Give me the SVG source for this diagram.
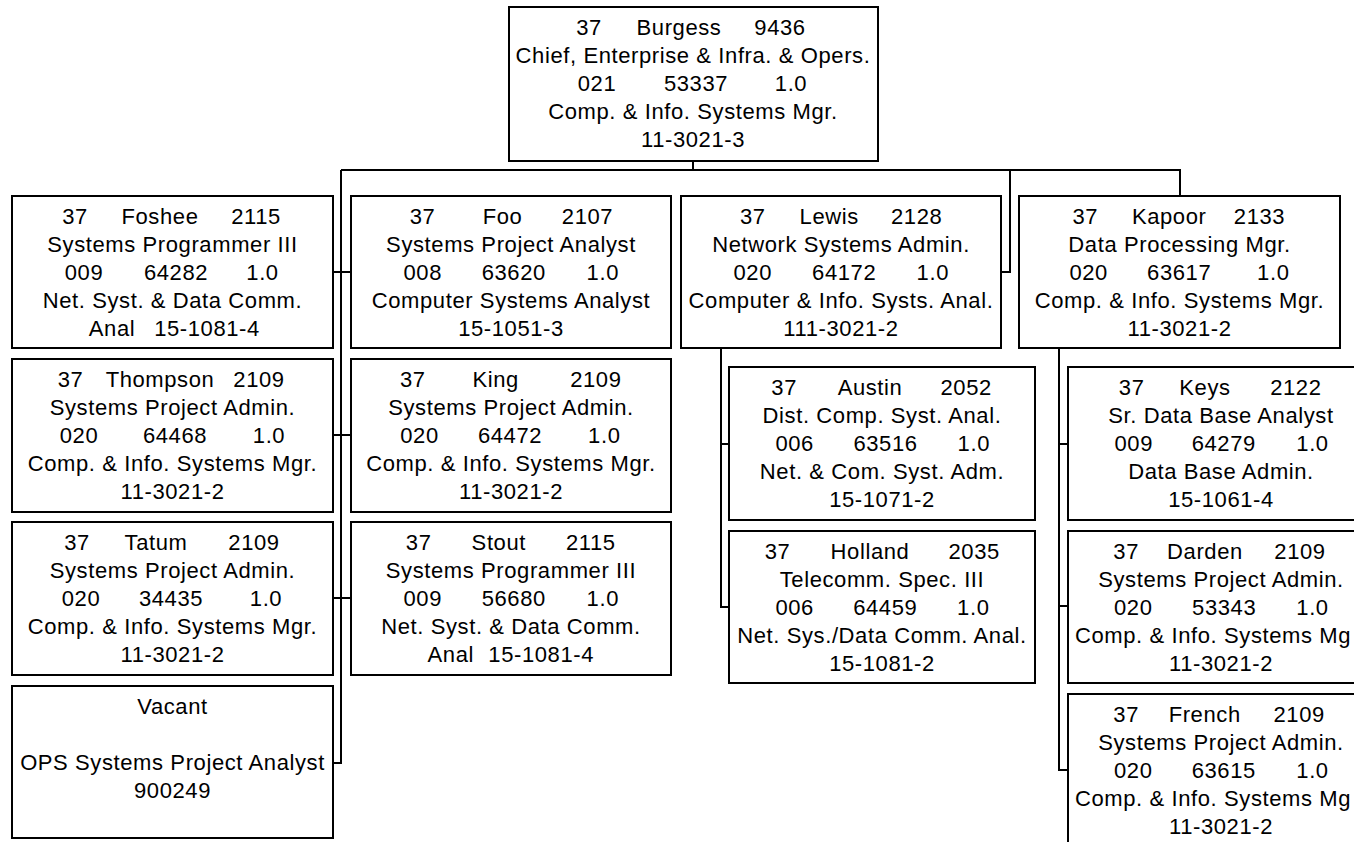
<svg xmlns="http://www.w3.org/2000/svg" width="1354" height="842" viewBox="0 0 1354 842">
<style>
.box{fill:#fff;stroke:#000;stroke-width:2}
.conn{fill:none;stroke:#000;stroke-width:2}
text{font-family:"Liberation Sans",Arial,sans-serif;font-size:22px;letter-spacing:0.6px;fill:#000;text-anchor:middle}
text.l{text-anchor:start}
</style>
<rect width="1354" height="842" fill="#fff"/>
<g id="connectors" class="conn">
<path d="M693,161 V170"/>
<path d="M341,170 H1180 V196"/>
<path d="M1010,170 V272 H1001"/>
<path d="M341,170 V763 H333"/>
<path d="M333,272 H351 M333,435 H351 M333,598 H351"/>
<path d="M721,348 V607 H729 M721,444 H729"/>
<path d="M1059,348 V770 H1068 M1059,444 H1068 M1059,606 H1068"/>
</g>
<g id="burgess">
<rect class="box" x="509" y="7" width="369" height="154"/>
<text y="34.5"><tspan x="589">37</tspan><tspan x="679">Burgess</tspan><tspan x="780">9436</tspan></text>
<text x="693" y="62.7">Chief, Enterprise &amp; Infra. &amp; Opers.</text>
<text y="90.9"><tspan x="597">021</tspan><tspan x="696">53337</tspan><tspan x="791">1.0</tspan></text>
<text x="693" y="119.1">Comp. &amp; Info. Systems Mgr.</text>
<text x="693" y="147.3">11-3021-3</text>
</g>
<g id="foshee">
<rect class="box" x="12" y="196" width="321" height="152"/>
<text y="223.5"><tspan x="75">37</tspan><tspan x="160">Foshee</tspan><tspan x="256">2115</tspan></text>
<text x="172.5" y="251.7">Systems Programmer III</text>
<text y="279.9"><tspan x="84">009</tspan><tspan x="176">64282</tspan><tspan x="262.5">1.0</tspan></text>
<text x="172.5" y="308.1">Net. Syst. &amp; Data Comm.</text>
<text y="336.3"><tspan x="112">Anal</tspan><tspan x="207">15-1081-4</tspan></text>
</g>
<g id="thompson">
<rect class="box" x="12" y="359" width="321" height="153"/>
<text y="386.5"><tspan x="70.5">37</tspan><tspan x="160">Thompson</tspan><tspan x="259">2109</tspan></text>
<text x="172.5" y="414.7">Systems Project Admin.</text>
<text y="442.9"><tspan x="79">020</tspan><tspan x="175">64468</tspan><tspan x="269">1.0</tspan></text>
<text x="172.5" y="471.1">Comp. &amp; Info. Systems Mgr.</text>
<text x="172.5" y="499.3">11-3021-2</text>
</g>
<g id="tatum">
<rect class="box" x="12" y="522" width="321" height="153"/>
<text y="549.5"><tspan x="77">37</tspan><tspan x="156">Tatum</tspan><tspan x="254">2109</tspan></text>
<text x="172.5" y="577.7">Systems Project Admin.</text>
<text y="605.9"><tspan x="81">020</tspan><tspan x="171">34435</tspan><tspan x="266">1.0</tspan></text>
<text x="172.5" y="634.1">Comp. &amp; Info. Systems Mgr.</text>
<text x="172.5" y="662.3">11-3021-2</text>
</g>
<g id="vacant">
<rect class="box" x="12" y="686" width="321" height="152"/>
<text x="172.5" y="713.5">Vacant</text>
<text x="172.5" y="769.9">OPS Systems Project Analyst</text>
<text x="172.5" y="798.1">900249</text>
</g>
<g id="foo">
<rect class="box" x="351" y="196" width="320" height="152"/>
<text y="223.5"><tspan x="422.5">37</tspan><tspan x="502.5">Foo</tspan><tspan x="587.5">2107</tspan></text>
<text x="511" y="251.7">Systems Project Analyst</text>
<text y="279.9"><tspan x="422.8">008</tspan><tspan x="513.8">63620</tspan><tspan x="602.8">1.0</tspan></text>
<text x="511" y="308.1">Computer Systems Analyst</text>
<text x="511" y="336.3">15-1051-3</text>
</g>
<g id="king">
<rect class="box" x="351" y="359" width="320" height="153"/>
<text y="386.5"><tspan x="412.8">37</tspan><tspan x="495.7">King</tspan><tspan x="595.8">2109</tspan></text>
<text x="511" y="414.7">Systems Project Admin.</text>
<text y="442.9"><tspan x="419.5">020</tspan><tspan x="510">64472</tspan><tspan x="604.3">1.0</tspan></text>
<text x="511" y="471.1">Comp. &amp; Info. Systems Mgr.</text>
<text x="511" y="499.3">11-3021-2</text>
</g>
<g id="stout">
<rect class="box" x="351" y="522" width="320" height="153"/>
<text y="549.5"><tspan x="418.7">37</tspan><tspan x="498.8">Stout</tspan><tspan x="590.8">2115</tspan></text>
<text x="511" y="577.7">Systems Programmer III</text>
<text y="605.9"><tspan x="422.8">009</tspan><tspan x="513.8">56680</tspan><tspan x="602.8">1.0</tspan></text>
<text x="511" y="634.1">Net. Syst. &amp; Data Comm.</text>
<text y="662.3"><tspan x="450.8">Anal</tspan><tspan x="541.2">15-1081-4</tspan></text>
</g>
<g id="lewis">
<rect class="box" x="681" y="196" width="320" height="152"/>
<text y="223.5"><tspan x="752.8">37</tspan><tspan x="829.2">Lewis</tspan><tspan x="916.7">2128</tspan></text>
<text x="841" y="251.7">Network Systems Admin.</text>
<text y="279.9"><tspan x="752.8">020</tspan><tspan x="844.2">64172</tspan><tspan x="932.8">1.0</tspan></text>
<text x="841" y="308.1">Computer &amp; Info. Systs. Anal.</text>
<text x="841" y="336.3">111-3021-2</text>
</g>
<g id="austin">
<rect class="box" x="729" y="367" width="306" height="153"/>
<text y="394.5"><tspan x="784.2">37</tspan><tspan x="870">Austin</tspan><tspan x="966.2">2052</tspan></text>
<text x="882" y="422.7">Dist. Comp. Syst. Anal.</text>
<text y="450.9"><tspan x="794.7">006</tspan><tspan x="885.5">63516</tspan><tspan x="973.8">1.0</tspan></text>
<text x="882" y="479.1">Net. &amp; Com. Syst. Adm.</text>
<text x="882" y="507.3">15-1071-2</text>
</g>
<g id="holland">
<rect class="box" x="729" y="531" width="306" height="152"/>
<text y="558.5"><tspan x="777.5">37</tspan><tspan x="870">Holland</tspan><tspan x="974.2">2035</tspan></text>
<text x="882" y="586.7">Telecomm. Spec. III</text>
<text y="614.9"><tspan x="794.7">006</tspan><tspan x="885.3">64459</tspan><tspan x="973.3">1.0</tspan></text>
<text x="882" y="643.1">Net. Sys./Data Comm. Anal.</text>
<text x="882" y="671.3">15-1081-2</text>
</g>
<g id="kapoor">
<rect class="box" x="1019" y="196" width="321" height="152"/>
<text y="223.5"><tspan x="1085.3">37</tspan><tspan x="1169.2">Kapoor</tspan><tspan x="1259.5">2133</tspan></text>
<text x="1179.5" y="251.7">Data Processing Mgr.</text>
<text y="279.9"><tspan x="1088.7">020</tspan><tspan x="1179.2">63617</tspan><tspan x="1273.3">1.0</tspan></text>
<text x="1179.5" y="308.1">Comp. &amp; Info. Systems Mgr.</text>
<text x="1179.5" y="336.3">11-3021-2</text>
</g>
<g id="keys">
<rect class="box" x="1068" y="367" width="306" height="153"/>
<text y="394.5"><tspan x="1131.7">37</tspan><tspan x="1205">Keys</tspan><tspan x="1295.8">2122</tspan></text>
<text x="1221" y="422.7">Sr. Data Base Analyst</text>
<text y="450.9"><tspan x="1133.8">009</tspan><tspan x="1223.8">64279</tspan><tspan x="1312.5">1.0</tspan></text>
<text x="1221" y="479.1">Data Base Admin.</text>
<text x="1221" y="507.3">15-1061-4</text>
</g>
<g id="darden">
<rect class="box" x="1068" y="531" width="306" height="152"/>
<text y="558.5"><tspan x="1126.2">37</tspan><tspan x="1205">Darden</tspan><tspan x="1300">2109</tspan></text>
<text x="1221" y="586.7">Systems Project Admin.</text>
<text y="614.9"><tspan x="1133.3">020</tspan><tspan x="1224.2">53343</tspan><tspan x="1312.5">1.0</tspan></text>
<text class="l" x="1075" y="643.1">Comp. &amp; Info. Systems Mg</text>
<text x="1221" y="671.3">11-3021-2</text>
</g>
<g id="french">
<rect class="box" x="1068" y="694" width="306" height="152"/>
<text y="721.5"><tspan x="1126.2">37</tspan><tspan x="1204.7">French</tspan><tspan x="1299.2">2109</tspan></text>
<text x="1221" y="749.7">Systems Project Admin.</text>
<text y="777.9"><tspan x="1133.3">020</tspan><tspan x="1223.8">63615</tspan><tspan x="1312.5">1.0</tspan></text>
<text class="l" x="1075" y="806.1">Comp. &amp; Info. Systems Mg</text>
<text x="1221" y="834.3">11-3021-2</text>
</g>
</svg>
